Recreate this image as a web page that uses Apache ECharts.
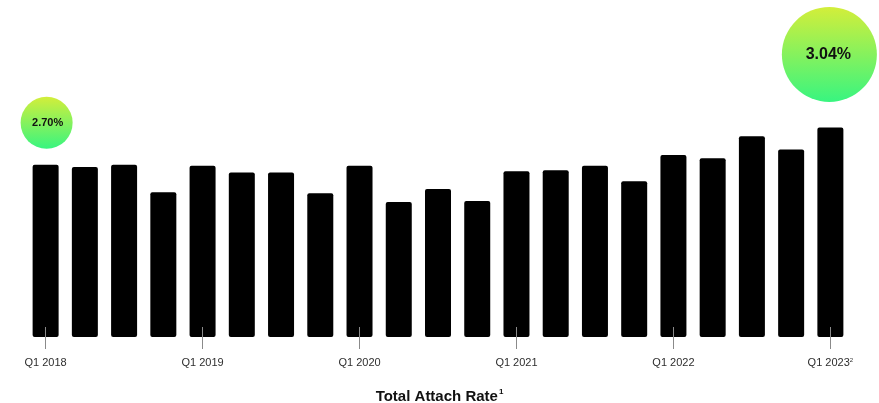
<!DOCTYPE html>
<html>
<head>
<meta charset="utf-8">
<script src="https://cdn.jsdelivr.net/npm/echarts@6/dist/echarts.min.js"></script>
<style>
  html, body { margin: 0; padding: 0; background: #fff; }
  #chart { width: 879px; height: 403px; }
</style>
</head>
<body>
<div id="chart"></div>
<script>
// Quarterly total attach rate (%), Q1 2018 – Q1 2023
const quarters = [
  'Q1 2018', 'Q2 2018', 'Q3 2018', 'Q4 2018',
  'Q1 2019', 'Q2 2019', 'Q3 2019', 'Q4 2019',
  'Q1 2020', 'Q2 2020', 'Q3 2020', 'Q4 2020',
  'Q1 2021', 'Q2 2021', 'Q3 2021', 'Q4 2021',
  'Q1 2022', 'Q2 2022', 'Q3 2022', 'Q4 2022',
  'Q1 2023'
];
const attachRate = [
  2.70, 2.68, 2.70, 2.45,
  2.69, 2.63, 2.63, 2.44,
  2.69, 2.36, 2.48, 2.37,
  2.64, 2.65, 2.69, 2.55,
  2.79, 2.76, 2.96, 2.84,
  3.04
];
// Footnote markers shown next to some tick labels
const footnotes = { 'Q1 2023': '2' };
const chartTitle = 'Total Attach Rate';
const titleFootnote = '1';

const bubbleFill = new echarts.graphic.LinearGradient(0, 0, 0, 1, [
  { offset: 0, color: '#d3ee3a' },
  { offset: 1, color: '#38f580' }
]);

const first = 0, last = attachRate.length - 1;

const chart = echarts.init(document.getElementById('chart'));
chart.setOption({
  animation: false,
  backgroundColor: '#ffffff',
  textStyle: { fontFamily: 'Liberation Sans, Arial, sans-serif' },
  title: {
    text: '{t|' + chartTitle + '}{s|' + titleFootnote + '}',
    left: 'center',
    bottom: -6,
    textStyle: {
      rich: {
        t: { fontSize: 15, fontWeight: 'bold', color: '#111', fontFamily: 'Liberation Sans, Arial, sans-serif' },
        s: { fontSize: 8, color: '#111', padding: [0, 0, 10, 1], fontFamily: 'Liberation Sans, Arial, sans-serif' }
      }
    }
  },
  grid: { left: 26, right: 29, top: 77, bottom: 66 },
  xAxis: {
    type: 'category',
    data: quarters,
    offset: -10,
    z: 10,
    axisLine: { show: false },
    axisTick: {
      show: true,
      interval: 3,
      alignWithLabel: true,
      length: 22,
      lineStyle: { color: '#8a8a8a', width: 1 }
    },
    axisLabel: {
      interval: 3,
      margin: 30,
      formatter: function (v) {
        return footnotes[v] ? '{a|' + v + '}{s|' + footnotes[v] + '}' : '{a|' + v + '}';
      },
      rich: {
        a: { fontSize: 11, color: '#2e2e2e' },
        s: { fontSize: 6, color: '#2e2e2e', padding: [0, 0, 6, 0] }
      }
    }
  },
  yAxis: {
    type: 'value',
    show: false,
    min: 1.13,
    max: 3.5
  },
  series: [{
    type: 'bar',
    data: attachRate,
    barWidth: 26,
    itemStyle: { color: '#000', borderRadius: 2 },
    markPoint: {
      symbol: 'circle',
      silent: true,
      itemStyle: { color: bubbleFill },
      label: {
        show: true,
        color: '#111',
        fontWeight: 'bold',
        formatter: function (p) { return p.value.toFixed(2) + '%'; }
      },
      data: [
        {
          coord: [quarters[first], attachRate[first]],
          value: attachRate[first],
          symbolSize: 52,
          symbolOffset: [1, -42],
          label: { fontSize: 11, offset: [1, 0] }
        },
        {
          coord: [quarters[last], attachRate[last]],
          value: attachRate[last],
          symbolSize: 95,
          symbolOffset: [-1, -73],
          label: { fontSize: 16, offset: [-1, 0] }
        }
      ]
    }
  }]
});
</script>
</body>
</html>
